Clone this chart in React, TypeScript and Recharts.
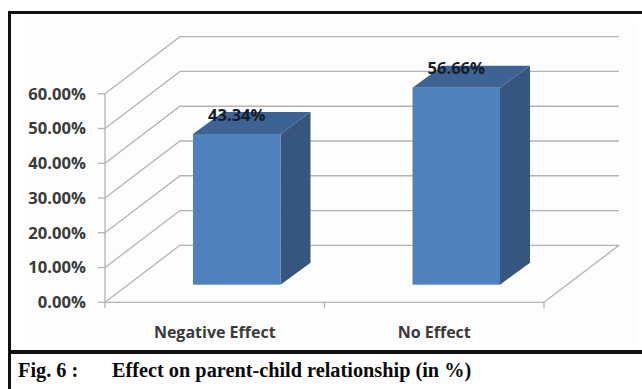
import { BarChart, Bar, XAxis, YAxis, CartesianGrid, LabelList } from 'recharts'

const categories = ['Negative Effect', 'No Effect']
const values = [43.34, 56.66]
const yTicks = [0, 10, 20, 30, 40, 50, 60]

const data = categories.map((name, i) => ({ name, value: values[i] }))

const W = 642
const H = 389
const PLOT_LEFT = 105
const PLOT_RIGHT = 544
const PLOT_TOP = 93.7
const PLOT_BOTTOM = 302.3
const X_AXIS_H = 40

// wall depth of the fake 3D box
const WALL_DX = 75
const WALL_DY = -57
// bars stand part way back on the floor
const BAR_DX = 22
const BAR_DY = -17.6
const SIDE_DX = 30
const SIDE_DY = -22

const GRID = '#b3b3b3'
const TICK_TEXT = '#3a3a3a'
const FRONT = '#4f81bd'
const TOP = '#3c6393'
const SIDE = '#36557f'
const SANS = '"Open Sans", sans-serif'
const SERIF = '"Liberation Serif", serif'

function WallLine({ x1, x2, y1 }: any) {
  const bx = x1 + WALL_DX
  const by = y1 + WALL_DY
  const isFloor = Math.abs(y1 - PLOT_BOTTOM) < 1
  return (
    <g fill="none" stroke={GRID} strokeWidth={1.3}>
      <polyline points={`${x1},${y1} ${bx},${by} ${x2 + WALL_DX},${by}`} />
      {isFloor && <line x1={x2} y1={y1} x2={x2 + WALL_DX} y2={by} />}
    </g>
  )
}

function Box({ x, y, width, height }: any) {
  const l = x + BAR_DX
  const r = l + width
  const t = y + BAR_DY
  const b = t + height
  return (
    <g>
      <polygon points={`${l},${t} ${r},${t} ${r + SIDE_DX},${t + SIDE_DY} ${l + SIDE_DX},${t + SIDE_DY}`} fill={TOP} />
      <polygon points={`${r},${t} ${r + SIDE_DX},${t + SIDE_DY} ${r + SIDE_DX},${b + SIDE_DY} ${r},${b}`} fill={SIDE} />
      <rect x={l} y={t} width={width} height={height} fill={FRONT} />
    </g>
  )
}

function BoxLabel({ x, y, width, value }: any) {
  return (
    <text
      x={x + BAR_DX + width / 2}
      y={y + BAR_DY - 13.5}
      textAnchor="middle"
      fontFamily={SANS}
      fontSize={16.6}
      fontWeight={700}
      fill="#141b2b"
    >
      {`${Number(value).toFixed(2)}%`}
    </text>
  )
}

function CategoryTick({ x, payload, index }: any) {
  const half = (PLOT_RIGHT - PLOT_LEFT) / categories.length / 2
  return (
    <g>
      <line x1={x - half} y1={PLOT_BOTTOM} x2={x - half} y2={PLOT_BOTTOM + 6} stroke={GRID} strokeWidth={1.3} />
      {index === categories.length - 1 && (
        <line x1={x + half} y1={PLOT_BOTTOM} x2={x + half} y2={PLOT_BOTTOM + 6} stroke={GRID} strokeWidth={1.3} />
      )}
      <text x={x} y={338} textAnchor="middle" fontFamily={SANS} fontSize={16} fontWeight={700} fill={TICK_TEXT}>
        {payload.value}
      </text>
    </g>
  )
}

const captionStyle = {
  position: 'absolute',
  top: 358,
  fontFamily: SERIF,
  fontWeight: 700,
  fontSize: 20.3,
  lineHeight: '24px',
  color: '#0a0a0a',
  whiteSpace: 'pre',
} as const

export default function App() {
  return (
    <div style={{ position: 'absolute', left: 0, top: 0, width: W, height: H, background: '#fff', overflow: 'hidden' }}>
      <div style={{ position: 'absolute', left: 25, top: 22, width: 613, height: 323, background: '#fdfdfd' }} />
      <div style={{ position: 'absolute', left: 8, top: 11, right: 0, height: 2.5, background: '#111' }} />
      <div style={{ position: 'absolute', left: 8, top: 11, bottom: 0, width: 2.5, background: '#111' }} />
      <div style={{ position: 'absolute', left: 8, top: 350, right: 0, height: 4, background: '#111' }} />
      <BarChart
        width={W}
        height={H}
        data={data}
        barSize={87.5}
        style={{ position: 'absolute', left: 0, top: 0 }}
        margin={{ top: PLOT_TOP, right: W - PLOT_RIGHT, bottom: H - PLOT_BOTTOM - X_AXIS_H, left: 0 }}
      >
        <CartesianGrid vertical={false} horizontal={(props: any) => <WallLine key={props.key} {...props} />} />
        <XAxis
          dataKey="name"
          height={X_AXIS_H}
          interval={0}
          tickLine={false}
          axisLine={{ stroke: GRID, strokeWidth: 1.3 }}
          tick={<CategoryTick />}
        />
        <YAxis
          width={PLOT_LEFT}
          domain={[0, 60]}
          ticks={yTicks}
          tickSize={7}
          tickMargin={12}
          axisLine={{ stroke: GRID, strokeWidth: 1.3 }}
          tickLine={{ stroke: GRID, strokeWidth: 1.3 }}
          tickFormatter={(v: number) => `${v.toFixed(2)}%`}
          tick={{ fontFamily: SANS, fontSize: 16.6, fontWeight: 700, fill: TICK_TEXT }}
        />
        <Bar dataKey="value" shape={<Box />} isAnimationActive={false}>
          <LabelList dataKey="value" content={<BoxLabel />} />
        </Bar>
      </BarChart>
      <div style={{ ...captionStyle, left: 18 }}>Fig. 6 :</div>
      <div style={{ ...captionStyle, left: 112 }}>Effect on parent-child relationship (in %)</div>
    </div>
  )
}
